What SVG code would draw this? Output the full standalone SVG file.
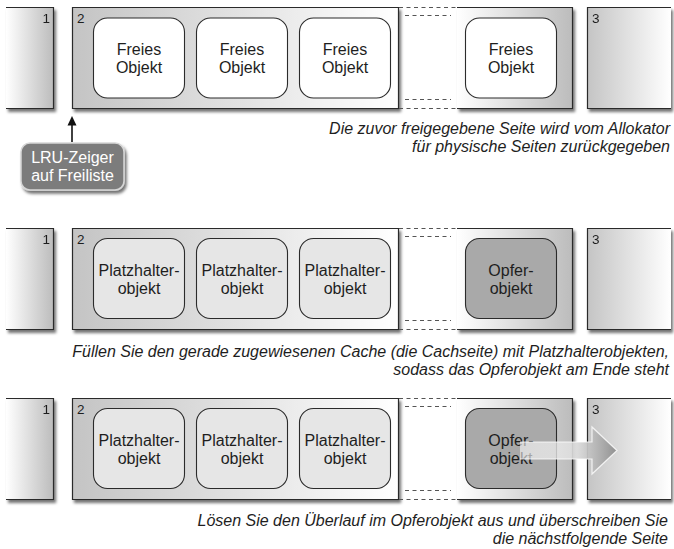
<svg xmlns="http://www.w3.org/2000/svg" width="674" height="549" viewBox="0 0 674 549">
  <defs>
    <linearGradient id="fadeToGray" x1="0" y1="0" x2="1" y2="0">
      <stop offset="0" stop-color="#ffffff"/>
      <stop offset="1" stop-color="#bcbcbc"/>
    </linearGradient>
    <linearGradient id="grayToWhite" x1="0" y1="0" x2="1" y2="0">
      <stop offset="0" stop-color="#c4c4c4"/>
      <stop offset="1" stop-color="#ffffff"/>
    </linearGradient>
    <linearGradient id="overflowFill" x1="520" y1="0" x2="618" y2="0" gradientUnits="userSpaceOnUse">
      <stop offset="0" stop-color="#ffffff" stop-opacity="0.55"/>
      <stop offset="0.55" stop-color="#dedede" stop-opacity="0.9"/>
      <stop offset="1" stop-color="#8e8e8e"/>
    </linearGradient>
    <filter id="shadow" x="-10%" y="-10%" width="130%" height="130%">
      <feDropShadow dx="2" dy="3" stdDeviation="1.4" flood-color="#000" flood-opacity="0.55"/>
    </filter>
  </defs>
  <style>
    .edge { fill: none; stroke: #2b2b2b; stroke-width: 1.2; }
    .gap { fill: none; stroke: #555; stroke-width: 1; stroke-dasharray: 4 3.5; }
    .obj { stroke: #2b2b2b; stroke-width: 1.1; }
    .free { fill: #ffffff; }
    .hold { fill: #e6e6e6; }
    .victim { fill: #a9a9a9; }
    .lbl { font-family: "Liberation Sans", Arial, sans-serif; font-size: 16px; fill: #1e1e1e; text-anchor: middle; }
    .num { font-family: "Liberation Sans", Arial, sans-serif; font-size: 13.5px; fill: #1e1e1e; }
    .cap { font-family: "Liberation Sans", Arial, sans-serif; font-size: 16px; font-style: italic; fill: #1e1e1e; text-anchor: end; }
    .lru { font-family: "Liberation Sans", Arial, sans-serif; font-size: 16px; fill: #ffffff; text-anchor: middle; }
  </style>

  <!-- Row 1: slab page filled with free objects -->
  <g id="row1" transform="translate(0,7)">
    <g id="r1-page1" filter="url(#shadow)">
      <rect x="6" y="0" width="47.5" height="101" fill="url(#fadeToGray)"/>
      <path class="edge" d="M6,0.5 H53.5 V101.5 H6"/>
      <text class="num" x="50" y="16" text-anchor="end">1</text>
    </g>
    <g id="r1-page2">
      <g filter="url(#shadow)">
        <rect x="72" y="0" width="326" height="101" fill="url(#grayToWhite)"/>
        <path class="edge" d="M398.5,0.5 H72.5 V101.5 H398.5 Z"/>
      </g>
      <g filter="url(#shadow)">
        <rect x="457" y="0" width="115.5" height="101" fill="url(#fadeToGray)"/>
        <path class="edge" d="M457,0.5 H572.5 V101.5 H457"/>
      </g>
      <path class="gap" d="M399,0.5 H457 M399,101.5 H457 M405,8.5 H451 M405,92.5 H451"/>
      <text class="num" x="77" y="16">2</text>
    </g>
    <g id="r1-page3" filter="url(#shadow)">
      <rect x="587" y="0" width="84" height="101" fill="url(#grayToWhite)"/>
      <path class="edge" d="M671,0.5 H587.5 V101.5 H671"/>
      <text class="num" x="592" y="16">3</text>
    </g>
    <g id="r1-obj1"><rect class="obj free" x="93.5" y="11" width="91" height="80" rx="14"/><text class="lbl" x="139" y="48">Freies</text><text class="lbl" x="139" y="66">Objekt</text></g>
    <g id="r1-obj2"><rect class="obj free" x="196.5" y="11" width="91" height="80" rx="14"/><text class="lbl" x="242" y="48">Freies</text><text class="lbl" x="242" y="66">Objekt</text></g>
    <g id="r1-obj3"><rect class="obj free" x="299.5" y="11" width="91" height="80" rx="14"/><text class="lbl" x="345" y="48">Freies</text><text class="lbl" x="345" y="66">Objekt</text></g>
    <g id="r1-obj4"><rect class="obj free" x="465.5" y="11" width="91" height="80" rx="14"/><text class="lbl" x="511" y="48">Freies</text><text class="lbl" x="511" y="66">Objekt</text></g>
    <g id="r1-caption">
      <text class="cap" x="670" y="127">Die zuvor freigegebene Seite wird vom Allokator</text>
      <text class="cap" x="670" y="145">für physische Seiten zurückgegeben</text>
    </g>
  </g>

  <!-- LRU pointer -->
  <g id="lru">
    <rect x="21" y="143" width="103" height="47" rx="9" fill="#7c7c7c" stroke="#d6d6d6" stroke-width="1.5" filter="url(#shadow)"/>
    <text class="lru" x="72.5" y="163">LRU-Zeiger</text>
    <text class="lru" x="72.5" y="181">auf Freiliste</text>
  </g>

  <!-- Row 2: placeholders with victim object at the end -->
  <g id="row2" transform="translate(0,228)">
    <g id="r2-page1" filter="url(#shadow)">
      <rect x="6" y="0" width="47.5" height="101" fill="url(#fadeToGray)"/>
      <path class="edge" d="M6,0.5 H53.5 V101.5 H6"/>
      <text class="num" x="50" y="16" text-anchor="end">1</text>
    </g>
    <g id="r2-page2">
      <g filter="url(#shadow)">
        <rect x="72" y="0" width="326" height="101" fill="url(#grayToWhite)"/>
        <path class="edge" d="M398.5,0.5 H72.5 V101.5 H398.5 Z"/>
      </g>
      <g filter="url(#shadow)">
        <rect x="457" y="0" width="115.5" height="101" fill="url(#fadeToGray)"/>
        <path class="edge" d="M457,0.5 H572.5 V101.5 H457"/>
      </g>
      <path class="gap" d="M399,0.5 H457 M399,101.5 H457 M405,8.5 H451 M405,92.5 H451"/>
      <text class="num" x="77" y="16">2</text>
    </g>
    <g id="r2-page3" filter="url(#shadow)">
      <rect x="587" y="0" width="84" height="101" fill="url(#grayToWhite)"/>
      <path class="edge" d="M671,0.5 H587.5 V101.5 H671"/>
      <text class="num" x="592" y="16">3</text>
    </g>
    <g id="r2-obj1"><rect class="obj hold" x="93.5" y="10.5" width="91" height="80" rx="14"/><text class="lbl" x="139" y="47.5">Platzhalter-</text><text class="lbl" x="139" y="65.5">objekt</text></g>
    <g id="r2-obj2"><rect class="obj hold" x="196.5" y="10.5" width="91" height="80" rx="14"/><text class="lbl" x="242" y="47.5">Platzhalter-</text><text class="lbl" x="242" y="65.5">objekt</text></g>
    <g id="r2-obj3"><rect class="obj hold" x="299.5" y="10.5" width="91" height="80" rx="14"/><text class="lbl" x="345" y="47.5">Platzhalter-</text><text class="lbl" x="345" y="65.5">objekt</text></g>
    <g id="r2-obj4"><rect class="obj victim" x="465.5" y="10.5" width="91" height="80" rx="14"/><text class="lbl" x="511" y="47.5">Opfer-</text><text class="lbl" x="511" y="65.5">objekt</text></g>
    <g id="r2-caption">
      <text class="cap" x="669" y="129">Füllen Sie den gerade zugewiesenen Cache (die Cachseite) mit Platzhalterobjekten,</text>
      <text class="cap" x="669" y="147">sodass das Opferobjekt am Ende steht</text>
    </g>
  </g>

  <!-- Row 3: victim object overflows into the next page -->
  <g id="row3" transform="translate(0,398)">
    <g id="r3-page1" filter="url(#shadow)">
      <rect x="6" y="0" width="47.5" height="101" fill="url(#fadeToGray)"/>
      <path class="edge" d="M6,0.5 H53.5 V101.5 H6"/>
      <text class="num" x="50" y="16" text-anchor="end">1</text>
    </g>
    <g id="r3-page2">
      <g filter="url(#shadow)">
        <rect x="72" y="0" width="326" height="101" fill="url(#grayToWhite)"/>
        <path class="edge" d="M398.5,0.5 H72.5 V101.5 H398.5 Z"/>
      </g>
      <g filter="url(#shadow)">
        <rect x="457" y="0" width="115.5" height="101" fill="url(#fadeToGray)"/>
        <path class="edge" d="M457,0.5 H572.5 V101.5 H457"/>
      </g>
      <path class="gap" d="M399,0.5 H457 M399,101.5 H457 M405,8.5 H451 M405,92.5 H451"/>
      <text class="num" x="77" y="16">2</text>
    </g>
    <g id="r3-page3" filter="url(#shadow)">
      <rect x="587" y="0" width="84" height="101" fill="url(#grayToWhite)"/>
      <path class="edge" d="M671,0.5 H587.5 V101.5 H671"/>
      <text class="num" x="592" y="16">3</text>
    </g>
    <g id="r3-obj1"><rect class="obj hold" x="93.5" y="10.5" width="91" height="80" rx="14"/><text class="lbl" x="139" y="47.5">Platzhalter-</text><text class="lbl" x="139" y="65.5">objekt</text></g>
    <g id="r3-obj2"><rect class="obj hold" x="196.5" y="10.5" width="91" height="80" rx="14"/><text class="lbl" x="242" y="47.5">Platzhalter-</text><text class="lbl" x="242" y="65.5">objekt</text></g>
    <g id="r3-obj3"><rect class="obj hold" x="299.5" y="10.5" width="91" height="80" rx="14"/><text class="lbl" x="345" y="47.5">Platzhalter-</text><text class="lbl" x="345" y="65.5">objekt</text></g>
    <g id="r3-obj4"><rect class="obj victim" x="465.5" y="10.5" width="91" height="80" rx="14"/><text class="lbl" x="511" y="47.5">Opfer-</text><text class="lbl" x="511" y="65.5">objekt</text></g>
    <g id="r3-caption">
      <text class="cap" x="668" y="128">Lösen Sie den Überlauf im Opferobjekt aus und überschreiben Sie</text>
      <text class="cap" x="668" y="146">die nächstfolgende Seite</text>
    </g>
  </g>

  <!-- Connectors -->
  <g id="connectors">
    <line x1="72" y1="142" x2="72" y2="124" stroke="#111" stroke-width="1.6"/>
    <polygon points="72,116 67.5,125.5 76.5,125.5" fill="#111"/>
    <path d="M520,442 H592 V427 L617,450.5 L592,474 V459 H520 Z" fill="url(#overflowFill)"/>
    <path d="M520,442 H592 V427 L617,450.5 L592,474 V459 H520" fill="none" stroke="#ffffff" stroke-width="1.2" stroke-opacity="0.8"/>
  </g>
</svg>
